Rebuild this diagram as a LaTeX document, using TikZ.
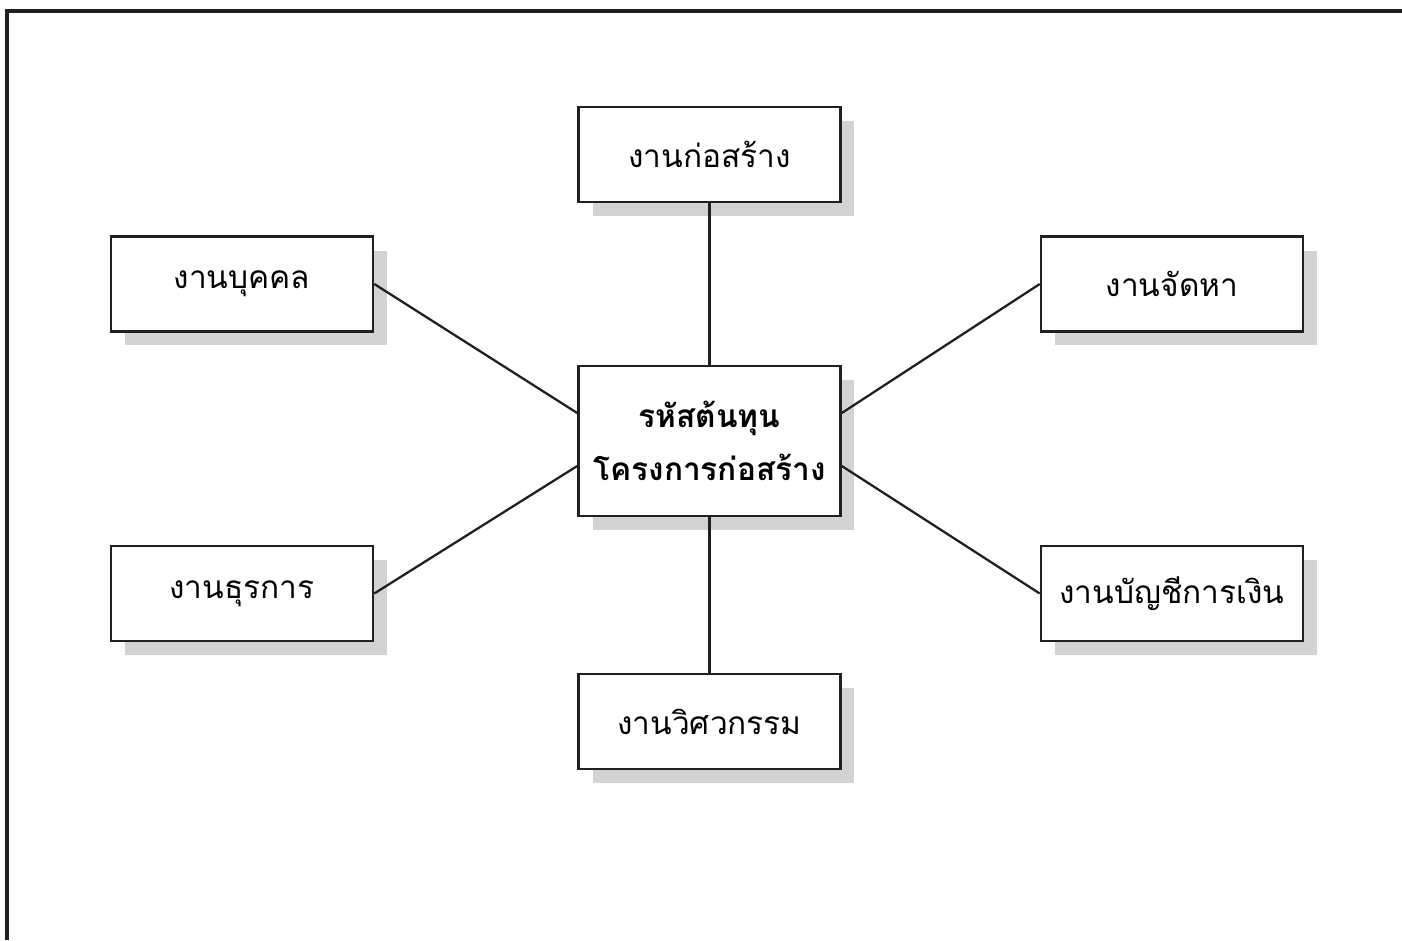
\documentclass[tikz,border=0pt]{standalone}
\usepackage{fontspec}
\newfontfamily\thaifont[Script=Thai]{Loma}
\usepackage{tikz}
\usetikzlibrary{shadows}
\definecolor{shadowgray}{RGB}{209,211,212}
\definecolor{inkblack}{RGB}{35,31,32}

\begin{document}
\begin{tikzpicture}[x=0.02cm, y=-0.02cm,
    every node/.style={font=\thaifont\fontsize{18}{30}\selectfont},
    job/.style={draw=inkblack, line width=1.5pt, fill=white, minimum width=5.24cm, minimum height=1.9cm,
        drop shadow={shadow xshift=0.28cm, shadow yshift=-0.28cm, fill=shadowgray, opacity=1}},
    link/.style={draw=inkblack, line width=1.3pt}]
    \useasboundingbox (0,0) rectangle (1402,940);
    \draw[inkblack, line width=1.9pt] (7,940) -- (7,11) -- (1402,11);
    % centre box
    \node[job, minimum height=3cm, align=center, font=\thaifont\bfseries\fontsize{18}{30}\selectfont] (cost) at (709.5,441) {รหัสต้นทุน\\โครงการก่อสร้าง};
    % departments
    \node[job] (build) at (709.5,154.5) {งานก่อสร้าง};
    \node[job] (staff) at (242,284) {งานบุคคล};
    \node[job] (supply) at (1172,284) {งานจัดหา};
    \node[job] (admin) at (242,593.5) {งานธุรการ};
    \node[job] (account) at (1172,593.5) {งานบัญชีการเงิน};
    \node[job] (engineer) at (709.5,721.5) {งานวิศวกรรม};
    \draw[link] (build) -- (cost);
    \draw[link] (cost) -- (engineer);
    \draw[link] (staff.east) -- ([yshift=0.56cm]cost.west);
    \draw[link] (admin.east) -- ([yshift=-0.5cm]cost.west);
    \draw[link] (supply.west) -- ([yshift=0.56cm]cost.east);
    \draw[link] (account.west) -- ([yshift=-0.5cm]cost.east);
\end{tikzpicture}
\end{document}
